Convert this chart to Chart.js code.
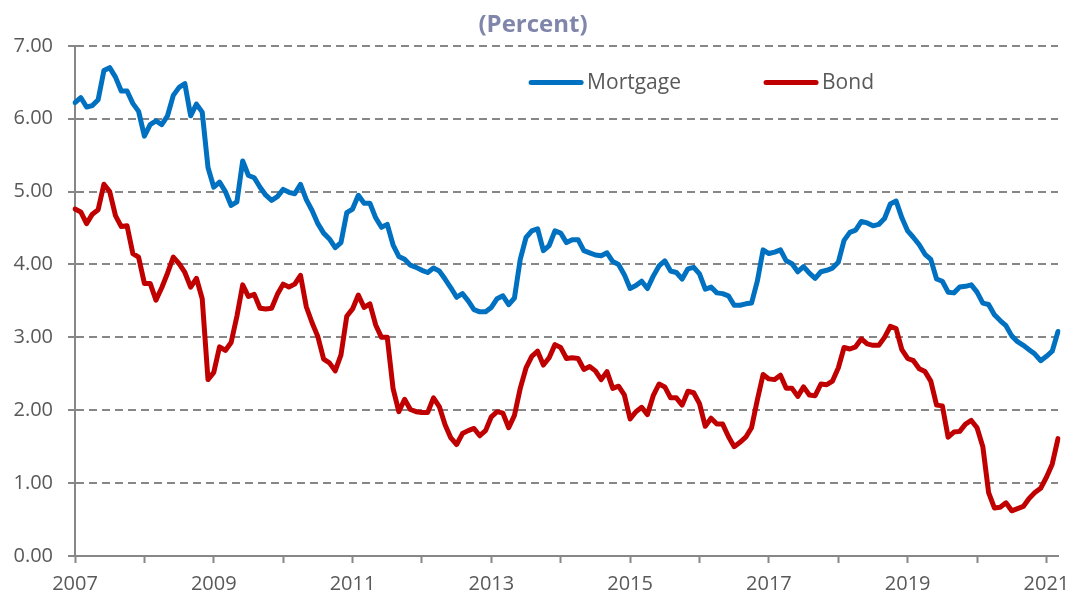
<!DOCTYPE html>
<html>
<head>
<meta charset="utf-8">
<script src="https://cdn.jsdelivr.net/npm/chart.js@4.4.1/dist/chart.umd.min.js"></script>
<style>
  html, body { margin: 0; padding: 0; background: #fff; }
  canvas { display: block; }
</style>
</head>
<body>
<canvas id="chart" width="1076" height="601"></canvas>
<script>
// Monthly averages, Jan 2007 - Mar 2021
const mortgage = [
  6.22, 6.29, 6.16, 6.18, 6.26, 6.66, 6.70, 6.57, 6.38, 6.38, 6.21, 6.10, // 2007
  5.76, 5.92, 5.97, 5.92, 6.04, 6.32, 6.43, 6.48, 6.04, 6.20, 6.09, 5.33, // 2008
  5.06, 5.13, 5.00, 4.81, 4.86, 5.42, 5.22, 5.19, 5.06, 4.95, 4.88, 4.93, // 2009
  5.03, 4.99, 4.97, 5.10, 4.89, 4.74, 4.56, 4.43, 4.35, 4.23, 4.30, 4.71, // 2010
  4.76, 4.95, 4.84, 4.84, 4.64, 4.51, 4.55, 4.27, 4.11, 4.07, 3.99, 3.96, // 2011
  3.92, 3.89, 3.95, 3.91, 3.80, 3.68, 3.55, 3.60, 3.50, 3.38, 3.35, 3.35, // 2012
  3.41, 3.53, 3.57, 3.45, 3.54, 4.07, 4.37, 4.46, 4.49, 4.19, 4.26, 4.46, // 2013
  4.43, 4.30, 4.34, 4.34, 4.19, 4.16, 4.13, 4.12, 4.16, 4.04, 4.00, 3.86, // 2014
  3.67, 3.71, 3.77, 3.67, 3.84, 3.98, 4.05, 3.91, 3.89, 3.80, 3.94, 3.96, // 2015
  3.87, 3.66, 3.69, 3.61, 3.60, 3.57, 3.44, 3.44, 3.46, 3.47, 3.77, 4.20, // 2016
  4.15, 4.17, 4.20, 4.05, 4.01, 3.90, 3.97, 3.88, 3.81, 3.90, 3.92, 3.95, // 2017
  4.03, 4.33, 4.44, 4.47, 4.59, 4.57, 4.53, 4.55, 4.63, 4.83, 4.87, 4.64, // 2018
  4.46, 4.37, 4.27, 4.14, 4.07, 3.80, 3.77, 3.62, 3.61, 3.69, 3.70, 3.72, // 2019
  3.62, 3.47, 3.45, 3.31, 3.23, 3.16, 3.02, 2.94, 2.89, 2.83, 2.77, 2.68, // 2020
  2.74, 2.81, 3.08                                                        // 2021
];

const bond = [
  4.76, 4.72, 4.56, 4.69, 4.75, 5.10, 5.00, 4.67, 4.52, 4.53, 4.15, 4.10, // 2007
  3.74, 3.74, 3.51, 3.68, 3.88, 4.10, 4.01, 3.89, 3.69, 3.81, 3.53, 2.42, // 2008
  2.52, 2.87, 2.82, 2.93, 3.29, 3.72, 3.56, 3.59, 3.40, 3.39, 3.40, 3.59, // 2009
  3.73, 3.69, 3.73, 3.85, 3.42, 3.20, 3.01, 2.70, 2.65, 2.54, 2.76, 3.29, // 2010
  3.39, 3.58, 3.41, 3.46, 3.17, 3.00, 3.00, 2.30, 1.98, 2.15, 2.01, 1.98, // 2011
  1.97, 1.97, 2.17, 2.05, 1.80, 1.62, 1.53, 1.68, 1.72, 1.75, 1.65, 1.72, // 2012
  1.91, 1.98, 1.96, 1.76, 1.93, 2.30, 2.58, 2.74, 2.81, 2.62, 2.72, 2.90, // 2013
  2.86, 2.71, 2.72, 2.71, 2.56, 2.60, 2.54, 2.42, 2.53, 2.30, 2.33, 2.21, // 2014
  1.88, 1.98, 2.04, 1.94, 2.20, 2.36, 2.32, 2.17, 2.17, 2.07, 2.26, 2.24, // 2015
  2.09, 1.78, 1.89, 1.81, 1.81, 1.64, 1.50, 1.56, 1.63, 1.76, 2.14, 2.49, // 2016
  2.43, 2.42, 2.48, 2.30, 2.30, 2.19, 2.32, 2.21, 2.20, 2.36, 2.35, 2.40, // 2017
  2.58, 2.86, 2.84, 2.87, 2.98, 2.91, 2.89, 2.89, 3.00, 3.15, 3.12, 2.83, // 2018
  2.71, 2.68, 2.57, 2.53, 2.40, 2.07, 2.06, 1.63, 1.70, 1.71, 1.81, 1.86, // 2019
  1.76, 1.50, 0.87, 0.66, 0.67, 0.73, 0.62, 0.65, 0.68, 0.79, 0.87, 0.93, // 2020
  1.08, 1.26, 1.61                                                        // 2021
];

const tickYears = ['2007', '2009', '2011', '2013', '2015', '2017', '2019', '2021'];

// one category per month, "YYYY-MM"
const months = [];
for (let i = 0; i < mortgage.length; i++) {
  const y = 2007 + Math.floor(i / 12);
  const m = (i % 12) + 1;
  months.push(y + '-' + String(m).padStart(2, '0'));
}

const gray = '#878787';
const textGray = '#595959';
const font = 'Open Sans';

// legend drawn inside the plot, like the original
const inlineLegend = {
  id: 'inlineLegend',
  afterDatasetsDraw(chart, args, opts) {
    const { ctx, chartArea } = chart;
    const y = chartArea.top + opts.y * chartArea.height;
    chart.data.datasets.forEach((ds, i) => {
      const x = chartArea.left + opts.xs[i] * chartArea.width;
      ctx.save();
      ctx.strokeStyle = ds.borderColor;
      ctx.lineWidth = 5;
      ctx.lineCap = 'round';
      ctx.beginPath();
      ctx.moveTo(x, y);
      ctx.lineTo(x + opts.sample, y);
      ctx.stroke();
      ctx.fillStyle = textGray;
      ctx.font = opts.fontSize + 'px "' + font + '"';
      ctx.textBaseline = 'middle';
      ctx.fillText(ds.label, x + opts.sample + 6, y);
      ctx.restore();
    });
  }
};

new Chart(document.getElementById('chart'), {
  type: 'line',
  data: {
    labels: months,
    datasets: [
      {
        label: 'Mortgage',
        data: mortgage,
        borderColor: '#0070c0',
        borderWidth: 5,
        pointRadius: 0,
        tension: 0,
        borderJoinStyle: 'round',
        borderCapStyle: 'round'
      },
      {
        label: 'Bond',
        data: bond,
        borderColor: '#c00000',
        borderWidth: 5,
        pointRadius: 0,
        tension: 0,
        borderJoinStyle: 'round',
        borderCapStyle: 'round'
      }
    ]
  },
  options: {
    responsive: false,
    animation: false,
    layout: { padding: { left: 8, right: 18, top: 5, bottom: 0 } },
    plugins: {
      legend: { display: false },
      tooltip: { enabled: false },
      title: {
        display: true,
        text: '(Percent)',
        color: '#7f86aa',
        font: { family: font, size: 24, weight: 'bold' },
        padding: { top: 6, bottom: 6 }
      },
      inlineLegend: { xs: [0.464, 0.703], y: 0.072, sample: 50, fontSize: 21 }
    },
    scales: {
      x: {
        offset: false,
        afterFit: (scale) => { scale.height = 45; },
        grid: {
          drawOnChartArea: false,
          drawTicks: true,
          tickLength: 7,
          tickWidth: 2,
          tickColor: (c) => (months[c.index] && months[c.index].endsWith('-01')) ? gray : 'transparent'
        },
        border: { color: gray, width: 2 },
        ticks: {
          autoSkip: false,
          maxRotation: 0,
          padding: 9,
          color: textGray,
          font: { family: font, size: 20 },
          callback: (v, i) => {
            const lab = months[i];
            const yr = lab.slice(0, 4);
            return (lab.endsWith('-01') && tickYears.includes(yr)) ? yr : '';
          }
        }
      },
      y: {
        min: 0,
        max: 7,
        afterFit: (scale) => { scale.width = 67; },
        grid: {
          color: gray,
          lineWidth: 2,
          drawTicks: true,
          tickLength: 7,
          tickColor: gray,
          tickWidth: 2
        },
        border: { color: gray, width: 2, dash: [8, 5] },
        ticks: {
          stepSize: 1,
          padding: 15,
          color: textGray,
          font: { family: font, size: 20 },
          callback: (v) => v.toFixed(2)
        }
      }
    }
  },
  plugins: [inlineLegend]
});
</script>
</body>
</html>
